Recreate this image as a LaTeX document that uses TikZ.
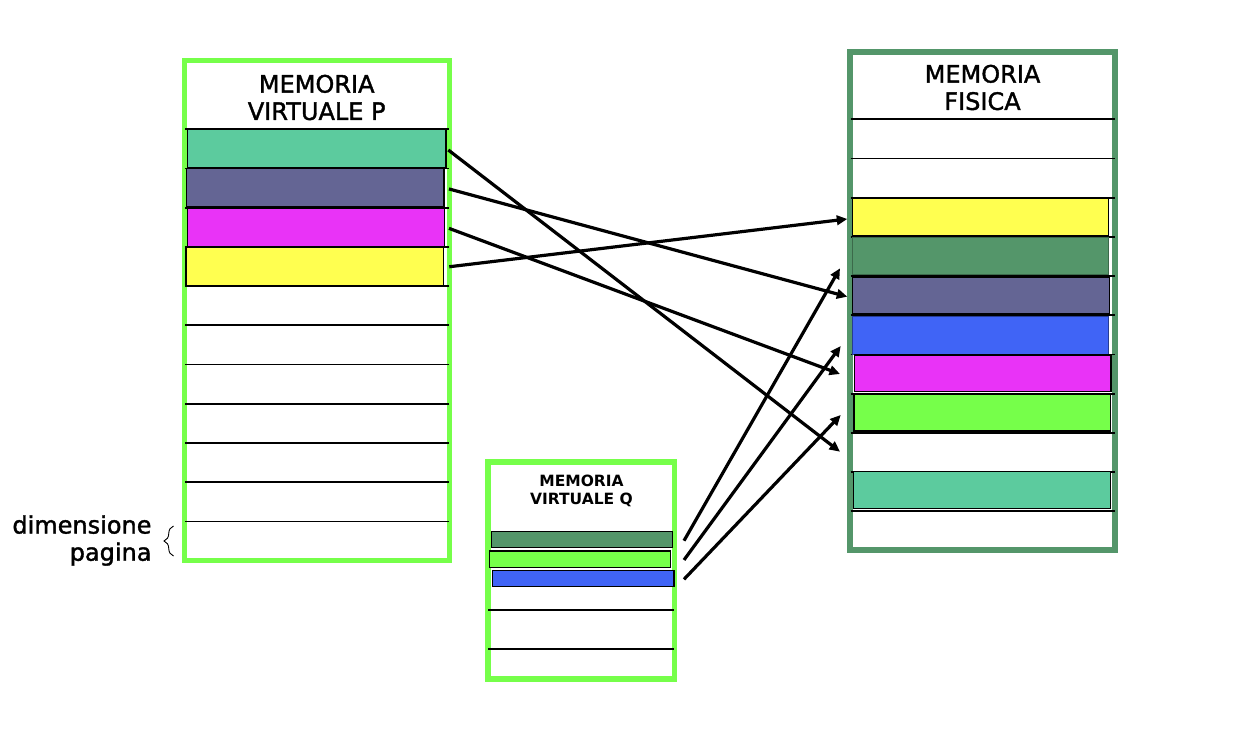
\documentclass[tikz,border=0pt]{standalone}
\usepackage{fontspec}
\setmainfont{DejaVu Sans}
\newfontfamily\heavyfont{DejaVu Sans}[FakeBold=1.5]
\usetikzlibrary{arrows.meta,decorations.pathreplacing}
\definecolor{lgreen}{RGB}{118,255,74}
\definecolor{pgreen}{RGB}{84,150,106}
\definecolor{cteal}{RGB}{92,203,158}
\definecolor{cpurple}{RGB}{100,101,148}
\definecolor{cmagenta}{RGB}{233,51,247}
\definecolor{cyellow}{RGB}{255,255,80}
\definecolor{cblue}{RGB}{64,100,246}
\definecolor{cgreen}{RGB}{118,255,74}
\tikzset{
  membox/.style={draw, fill=white, inner sep=0pt, outer sep=0pt, anchor=north west},
  cell/.style={draw=black, line width=1.4pt, inner sep=0pt, outer sep=0pt, anchor=north west},
  rowline/.style={draw=black, line width=1.7pt},
  map/.style={draw=black, line width=3.2pt, -{Triangle[length=10.5pt,width=9.5pt]}},
  bigtitle/.style={align=center, inner sep=0pt, font=\heavyfont\fontsize{24}{27.3}\selectfont},
  smalltitle/.style={align=center, inner sep=0pt, font=\fontsize{15.5}{18}\selectfont\bfseries},
}
\begin{document}
\begin{tikzpicture}[x=1pt,y=-1pt]
\useasboundingbox[fill=white] (0,0) rectangle (1258,738);

% ---------- memory boxes ----------
\node[membox, draw=lgreen, line width=5pt, minimum width=264.5pt, minimum height=499.6pt] (P) at (184.5,61) {};
\node[membox, draw=lgreen, line width=5.5pt, minimum width=186.5pt, minimum height=217pt] (Q) at (488,462) {};
\node[membox, draw=pgreen, line width=6pt, minimum width=264.4pt, minimum height=498.3pt] (F) at (850.3,51.7) {};

% ---------- row lines ----------
\foreach \y in {129.3,168.5,207.7,246.9,286,325.3,364.5,403.7,443,482,521.4}
  \draw[rowline] (185,\y) -- (449,\y);
\foreach \y in {119.3,158.5,197.7,236.9,276.1,315.3,354.5,393.7,432.9,472.1,511.3}
  \draw[rowline] (850.7,\y) -- (1115,\y);
\foreach \y in {610,649.3}
  \draw[rowline] (488.3,\y) -- (674,\y);

% ---------- pages of P ----------
\node[cell, fill=cteal,    minimum width=258.3pt, minimum height=38.4pt] (pTeal)    at (187.7,129.3) {};
\node[cell, fill=cpurple,  minimum width=257.3pt, minimum height=38.5pt] (pPurple)  at (186.7,168.5) {};
\node[cell, fill=cmagenta, minimum width=256.6pt, minimum height=38.7pt] (pMagenta) at (187.7,208) {};
\node[cell, fill=cyellow,  minimum width=257.3pt, minimum height=38.5pt] (pYellow)  at (186,247.5) {};

% ---------- pages of Q ----------
\node[cell, fill=pgreen, minimum width=181pt,   minimum height=16pt]   (qDark)  at (491.7,531.7) {};
\node[cell, fill=cgreen, minimum width=181.4pt, minimum height=16.3pt] (qGreen) at (489.3,551) {};
\node[cell, fill=cblue,  minimum width=181.3pt, minimum height=16pt]   (qBlue)  at (492.7,570.7) {};

% ---------- frames of physical memory ----------
\node[cell, fill=cyellow,  minimum width=256.4pt, minimum height=37.2pt] (fYellow)  at (852.3,198.3) {};
\node[cell, draw=pgreen!70!black, line width=0.8pt, fill=pgreen, minimum width=256.7pt, minimum height=37pt] (fDark) at (852,237.5) {};
\node[cell, fill=cpurple,  minimum width=257pt,   minimum height=36.5pt] (fPurple)  at (852.3,276.8) {};
\node[cell, draw=cblue!60!black, line width=0.8pt, fill=cblue, minimum width=256.7pt, minimum height=37.5pt] (fBlue) at (852,316.5) {};
\node[cell, fill=cmagenta, minimum width=256.7pt, minimum height=36.7pt] (fMagenta) at (854.3,355) {};
\node[cell, fill=cgreen,   minimum width=256.3pt, minimum height=36.5pt] (fGreen)   at (854,394.5) {};
\node[cell, fill=cteal,    minimum width=257pt,   minimum height=36.6pt] (fTeal)    at (853.3,471.7) {};

% ---------- titles ----------
\node[bigtitle] (tP) at (316.7,97.5) {MEMORIA\\VIRTUALE P};
\node[bigtitle] (tF) at (982.5,87.5) {MEMORIA\\FISICA};
\node[smalltitle] (tQ) at (581.5,490.5) {MEMORIA\\VIRTUALE Q};

% ---------- page size label ----------
\node[align=right, inner sep=0pt, anchor=east, font=\heavyfont\fontsize{24}{27.2}\selectfont] (dim) at (151.7,540.5) {dimensione\\pagina};
\draw[line width=0.9pt, decorate, decoration={brace, amplitude=9.5pt}] (173.5,556) -- (173.5,526);

% ---------- arrow end points ----------
\coordinate (aTeal)    at (840,451.7);
\coordinate (aPurple)  at (847.3,296.7);
\coordinate (aMagenta) at (840,374);
\coordinate (aYellow)  at (847.3,219);
\coordinate (aDark)    at (840,268.3);
\coordinate (aGreen)   at (840.7,346);
\coordinate (aBlue)    at (840.7,415);

% ---------- mappings ----------
\draw[map] ([xshift=2.3pt,yshift=-1.5pt]pTeal.east) -- (aTeal);
\draw[map] ([xshift=5pt,yshift=-1.2pt]pPurple.east) -- (aPurple);
\draw[map] ([xshift=4.7pt,yshift=-1pt]pMagenta.east) -- (aMagenta);
\draw[map] ([xshift=6pt]pYellow.east) -- (aYellow);
\draw[map] ([xshift=11.3pt,yshift=-1pt]qDark.east) -- (aDark);
\draw[map] ([xshift=13.3pt,yshift=-0.8pt]qGreen.east) -- (aGreen);
\draw[map] ([xshift=10pt,yshift=-0.6pt]qBlue.east) -- (aBlue);
\end{tikzpicture}
\end{document}
